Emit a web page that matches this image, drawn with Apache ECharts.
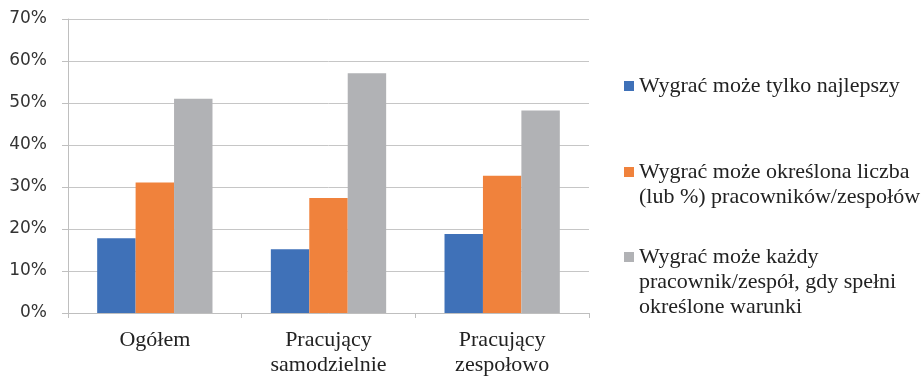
<!DOCTYPE html>
<html>
<head>
<meta charset="utf-8">
<script src="https://cdn.jsdelivr.net/npm/echarts@6/dist/echarts.min.js"></script>
<style>
  html, body { margin: 0; padding: 0; background: #fff; }
  #chart { width: 923px; height: 378px; }
</style>
</head>
<body>
<div id="chart"></div>
<script>
let categories = ['Ogółem', 'Pracujący\nsamodzielnie', 'Pracujący\nzespołowo'];
let series_names = [
    'Wygrać może tylko najlepszy',
    'Wygrać może określona liczba\n(lub %) pracowników/zespołów',
    'Wygrać może każdy\npracownik/zespół, gdy spełni\nokreślone warunki'
];
let only_best = [17.8, 15.2, 18.8];
let fixed_number = [31.1, 27.4, 32.7];
let everyone = [51.0, 57.1, 48.2];
let y_ticks = [0, 10, 20, 30, 40, 50, 60, 70];

let colors = ['#3F71B8', '#F0823C', '#B1B2B5'];
let serif_font = '"Liberation Serif", "Times New Roman", Times, serif';
let line_height = 25;

// legend icon: square on the first text line, box stretched over the other lines
function legend_icon(lines) {
    let h = 10 + (lines - 1) * line_height;
    return 'path://M0,' + h + 'M0,0L10,0L10,10L0,10Z';
}

function make_legend(i, top) {
    let lines = series_names[i].split('\n').length;
    return {
        left: 624,
        top: top,
        padding: 0,
        itemWidth: 10,
        itemHeight: 10 + (lines - 1) * line_height,
        icon: legend_icon(lines),
        selectedMode: false,
        data: [series_names[i]],
        textStyle: {
            fontFamily: serif_font,
            fontSize: 22,
            lineHeight: line_height,
            color: '#222'
        }
    };
}

let values = [only_best, fixed_number, everyone];
let series = [];
for (let i = 0; i < values.length; i++) {
    series.push({
        name: series_names[i],
        type: 'bar',
        data: values[i],
        barGap: 0,
        barCategoryGap: '33.6%',
        itemStyle: { color: colors[i] }
    });
}

let myChart = echarts.init(document.getElementById('chart'));
myChart.setOption({
    animation: false,
    color: colors,
    grid: { left: 68, right: 334, top: 19, bottom: 59, containLabel: false },
    legend: [make_legend(0, 73.5), make_legend(1, 159.5), make_legend(2, 244.5)],
    xAxis: {
        type: 'category',
        data: categories,
        axisLine: { lineStyle: { color: '#BFBFBF' } },
        axisTick: { show: true, length: 5, lineStyle: { color: '#BFBFBF' } },
        axisLabel: {
            fontFamily: serif_font,
            fontSize: 22,
            lineHeight: line_height,
            color: '#222',
            margin: 15
        }
    },
    yAxis: {
        type: 'value',
        min: y_ticks[0],
        max: y_ticks[y_ticks.length - 1],
        interval: 10,
        axisLine: { show: true, lineStyle: { color: '#BFBFBF' } },
        axisTick: { show: true, length: 6, lineStyle: { color: '#BFBFBF' } },
        splitLine: { lineStyle: { color: '#C6C6C6' } },
        axisLabel: {
            formatter: '{value}%',
            fontFamily: '"DejaVu Sans", sans-serif',
            fontSize: 17,
            color: '#333',
            margin: 21
        }
    },
    series: series
});
</script>
</body>
</html>
